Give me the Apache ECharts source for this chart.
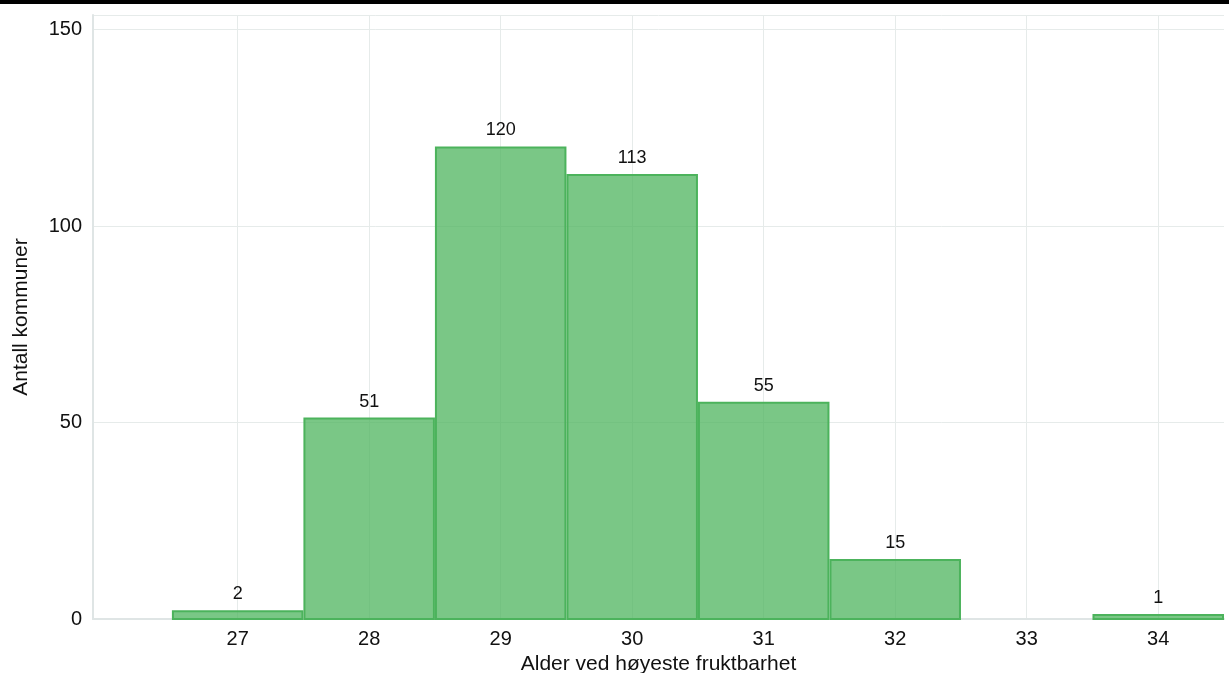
<!DOCTYPE html>
<html>
<head>
<meta charset="utf-8">
<script src="https://cdn.jsdelivr.net/npm/echarts@6/dist/echarts.min.js"></script>
<style>
html,body{margin:0;padding:0;background:#fff;overflow:hidden;}
#chart{width:1229px;height:673px;}
</style>
</head>
<body>
<div id="chart"></div>
<script>
const ages = [27, 28, 29, 30, 31, 32, 33, 34];
const counts = [2, 51, 120, 113, 55, 15, 0, 1];
const xTicks = [27, 28, 29, 30, 31, 32, 33, 34];
const yTicks = [0, 50, 100, 150];

const chart = echarts.init(document.getElementById('chart'), null, {renderer: 'canvas', width: 1229, height: 673});
const FONT = 'Liberation Sans, Arial, sans-serif';
const barData = ages.map((a, i) => [a, counts[i]]).filter(d => d[1] > 0);

chart.setOption({
  animation: false,
  backgroundColor: '#ffffff',
  graphic: [{
    type: 'rect', left: 0, top: 0, z: 100,
    shape: {width: 1229, height: 4},
    style: {fill: '#000'}
  }],
  grid: {left: 93, top: 15, width: 1131, height: 604, containLabel: false, outerBoundsMode: 'none'},
  xAxis: {
    type: 'value', min: 25.9, max: 34.5,
    name: 'Alder ved høyeste fruktbarhet',
    nameLocation: 'middle', nameGap: 29,
    nameTextStyle: {fontFamily: FONT, fontSize: 21, color: '#111'},
    axisLine: {show: true, onZero: false, lineStyle: {color: '#dfe5e5', width: 2}},
    axisTick: {show: false, customValues: xTicks},
    axisLabel: {customValues: xTicks, fontFamily: FONT, fontSize: 20, color: '#111', margin: 10},
    splitLine: {show: true, lineStyle: {color: '#e6ebea', width: 1}}
  },
  yAxis: {
    type: 'value', min: 0, max: 153.7, interval: 50,
    name: 'Antall kommuner',
    nameLocation: 'middle', nameGap: 61,
    nameTextStyle: {fontFamily: FONT, fontSize: 21, color: '#111'},
    axisLine: {show: true, lineStyle: {color: '#dfe5e5', width: 2}},
    axisTick: {show: false},
    axisLabel: {fontFamily: FONT, fontSize: 20, color: '#111', margin: 11, showMaxLabel: false,
      formatter: v => (yTicks.indexOf(v) >= 0 ? String(v) : '')},
    splitLine: {show: true, lineStyle: {color: '#e6ebea', width: 1}}
  },
  series: [{
    type: 'custom',
    data: barData,
    renderItem: function (params, api) {
      const x = api.value(0), y = api.value(1);
      const p0 = api.coord([x - 0.5, y]);
      const p1 = api.coord([x + 0.5, 0]);
      return {
        type: 'rect',
        shape: {x: p0[0] + 1, y: p0[1], width: p1[0] - p0[0] - 2, height: p1[1] - p0[1]},
        style: {fill: 'rgba(76,179,92,0.74)', stroke: '#4cb35c', lineWidth: 2},
        textContent: {style: {text: String(y), fontFamily: FONT, fontSize: 18, fill: '#111'}},
        textConfig: {position: 'top', distance: 7}
      };
    }
  }]
});
</script>
</body>
</html>
